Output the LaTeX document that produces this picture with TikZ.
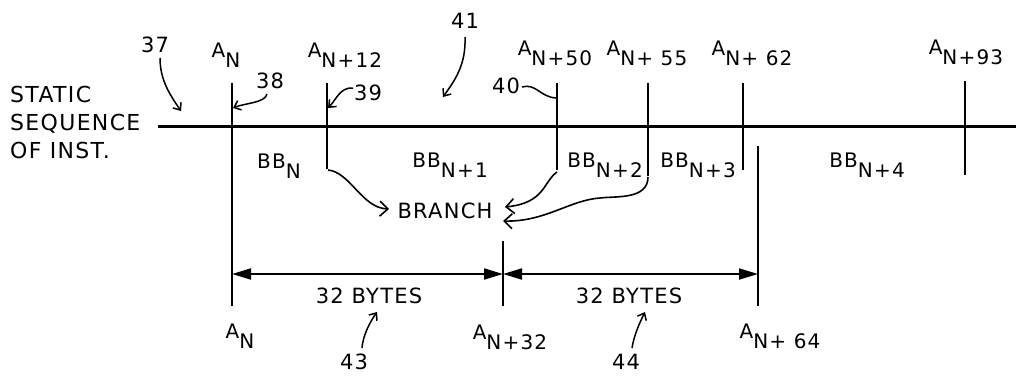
\documentclass[tikz,border=0pt]{standalone}
\usepackage{fontspec}
\setmainfont{DejaVu Sans}[LetterSpace=6]
\usetikzlibrary{arrows.meta}
\newcommand\dn[1]{\raisebox{-10pt}{#1}}
\tikzset{
  lbl/.style={inner sep=0pt, anchor=base, font=\fontsize{20}{22}\selectfont},
  num/.style={inner sep=0pt, anchor=base, font=\fontsize{21}{24}\selectfont},
  side/.style={inner sep=0pt, anchor=base west, font=\fontsize{22}{26}\selectfont},
  mainline/.style={line width=3pt},
  tick/.style={line width=2pt},
  lead/.style={line width=1.5pt},
  leadarrow/.style={line width=1.5pt, -{Straight Barb[length=6pt,width=10pt,line width=1.5pt]}},
  brarrow/.style={line width=1.6pt, -{Straight Barb[length=8pt,width=15pt,line width=1.6pt]}},
  dim/.style={line width=2pt, {Triangle[length=19pt,width=11pt]}-{Triangle[length=19pt,width=11pt]}}
}
\begin{document}
\begin{tikzpicture}[x=1pt,y=-1pt]
\useasboundingbox (0,0) rectangle (1016,375);
% main line
\coordinate (mL) at (158,126);
\coordinate (mR) at (1016,126);
\draw[mainline] (mL) -- (mR);
% vertical ticks
\coordinate (v1t) at (232,83);  \coordinate (v1b) at (232,306);
\coordinate (v2t) at (327,83);  \coordinate (v2b) at (327,169);
\coordinate (v3t) at (557,83);  \coordinate (v3b) at (557,170);
\coordinate (v4t) at (648,83);  \coordinate (v4b) at (648,176);
\coordinate (v5t) at (743,83);  \coordinate (v5b) at (743,170);
\coordinate (v6t) at (965,81);  \coordinate (v6b) at (965,175);
\coordinate (v7t) at (758,146); \coordinate (v7b) at (758,306);
\coordinate (v8t) at (503,241); \coordinate (v8b) at (503,306);
\foreach \i in {1,...,8} \draw[tick] (v\i t) -- (v\i b);
% dimension lines
\coordinate (d1) at (232,274);
\coordinate (d2) at (503,274);
\coordinate (d3) at (758,274);
\draw[dim] (d1) -- (d2);
\draw[dim] (d2) -- (d3);
% side text
\node[side] (s1) at (10,102) {STATIC};
\node[side] (s2) at (10,130) {SEQUENCE};
\node[side] (s3) at (10,158) {OF INST.};
% top address labels
\node[lbl] (a0) at (226,57) {A\dn{N}};
\node[lbl] (a12) at (345,57) {A\dn{N+12}};
\node[lbl] (a50) at (555,55) {A\dn{N+50}};
\node[lbl] (a55) at (647,55) {A\dn{N+ 55}};
\node[lbl] (a62) at (752,55) {A\dn{N+ 62}};
\node[lbl] (a93) at (966,54) {A\dn{N+93}};
% basic block labels
\node[lbl] (b0) at (279,168) {BB\dn{N}};
\node[lbl] (b1) at (450,167) {BB\dn{N+1}};
\node[lbl] (b2) at (605,167) {BB\dn{N+2}};
\node[lbl] (b3) at (698,167) {BB\dn{N+3}};
\node[lbl] (b4) at (867,167) {BB\dn{N+4}};
% branch
\node[lbl, font=\fontsize{21}{24}\selectfont] (br) at (445,218) {BRANCH};
% bottom labels
\node[lbl] (c0) at (240,338) {A\dn{N}};
\node[lbl] (c32) at (510,339) {A\dn{N+32}};
\node[lbl] (c64) at (780,338) {A\dn{N+ 64}};
\node[lbl, font=\fontsize{21}{24}\selectfont] (by1) at (369,303) {32 BYTES};
\node[lbl, font=\fontsize{21}{24}\selectfont] (by2) at (629,303) {32 BYTES};
% reference numerals
\node[num] (n37) at (155,52) {37};
\node[num] (n38) at (270,88) {38};
\node[num] (n39) at (368,100) {39};
\node[num] (n40) at (506,93) {40};
\node[num] (n41) at (465,28) {41};
\node[num] (n43) at (354,369) {43};
\node[num] (n44) at (626,369) {44};
% leaders
\coordinate (l37) at (181,111);
\coordinate (l41) at (443,97);
\coordinate (l43) at (377,312);
\coordinate (l44) at (645,312);
\coordinate (s37) at (160,58);
\coordinate (s41) at (465,37);
\coordinate (s43) at (362,348);
\coordinate (s44) at (632,348);
\draw[leadarrow] (s37) .. controls (160,80) and (170,95) .. (l37);
\draw[leadarrow] (s41) .. controls (466,65) and (455,80) .. (l41);
\draw[leadarrow] (s43) .. controls (363,335) and (370,322) .. (l43);
\draw[leadarrow] (s44) .. controls (634,335) and (640,322) .. (l44);
\coordinate (l38) at (233,108);
\coordinate (l39) at (328,108);
\coordinate (l40) at (556,98);
\draw[leadarrow] (267,94) .. controls (265,103) and (245,103) .. (l38);
\draw[leadarrow] (353,88) .. controls (340,87) and (336,100) .. (l39);
\draw[lead] (522,87) .. controls (536,83) and (540,97) .. (l40);
% branch arrows
\coordinate (t1) at (389,209);
\coordinate (t2) at (505,207);
\coordinate (t3) at (503,221);
\draw[brarrow] (v2b) ++(1,1) .. controls (350,172) and (362,208) .. (t1);
\draw[brarrow] (v3b) ++(0,2) .. controls (543,182) and (545,203) .. (t2);
\draw[brarrow] (v4b) ++(0,1) .. controls (648,200) and (615,196) .. (600,198) .. controls (570,200) and (545,222) .. (t3);
\end{tikzpicture}
\end{document}
